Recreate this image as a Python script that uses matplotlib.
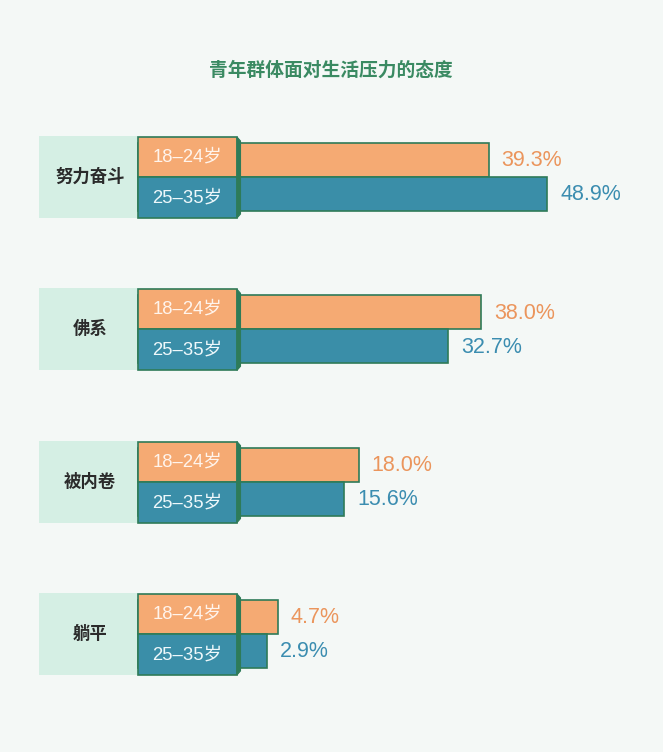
import matplotlib
matplotlib.use("Agg")
import matplotlib.pyplot as plt
from matplotlib.patches import Rectangle, Polygon

plt.rcParams['font.family'] = ['Noto Sans CJK SC', 'DejaVu Sans']
LATIN = ['Liberation Sans', 'Noto Sans CJK SC', 'DejaVu Sans']

# ---- data ----
title = "青年群体面对生活压力的态度"
categories = ["努力奋斗", "佛系", "被内卷", "躺平"]
age_groups = ["18–24岁", "25–35岁"]
young_vals = [39.3, 38.0, 18.0, 4.7]   # 18-24
older_vals = [48.9, 32.7, 15.6, 2.9]   # 25-35

# ---- style ----
BG = "#f4f8f6"
LIGHT = "#d5efe4"
ORANGE = "#f5aa73"
BLUE = "#3a8ea8"
ORANGE_TXT = "#eb955c"
BLUE_TXT = "#3b8db0"
EDGE = "#2e7b58"
TITLE_C = "#3a8a62"
CAT_C = "#2b2b2b"

W, H = 663, 752
fig = plt.figure(figsize=(W / 100, H / 100), dpi=100, facecolor=BG)
ax = fig.add_axes([0, 0, 1, 1])
ax.set_facecolor(BG)

PX0 = 249.0     # pixel x of value 0
SCALE = 6.1     # pixels per percentage point
ax.set_xlim(-PX0 / SCALE, (W - PX0) / SCALE)
ax.set_ylim(H, 0)
ax.axis("off")


def px(xp):
    return (xp - PX0) / SCALE


LBL_L, AGE_L, AGE_R = px(39), px(138), px(237)
CH = 3.5 / SCALE

ax.text(px(331), 70, title, ha="center", va="center", fontsize=13.5,
        fontweight="bold", color=TITLE_C)

for i, cat in enumerate(categories):
    split = 177 + 152.3 * i
    # category box
    ax.add_patch(Rectangle((LBL_L, split - 41), AGE_L - LBL_L, 82,
                           facecolor=LIGHT, edgecolor="none", zorder=1))
    ax.text(px(90), split, cat, ha="center", va="center",
            fontsize=12.5, fontweight="bold", color=CAT_C, zorder=5)
    # bars
    for v, yc, fc, tc in [(young_vals[i], split - 17, ORANGE, ORANGE_TXT),
                          (older_vals[i], split + 17, BLUE, BLUE_TXT)]:
        ax.barh(yc, v - AGE_L, left=AGE_L, height=34, color=fc,
                edgecolor=EDGE, linewidth=1.2, zorder=2)
        ax.text(v + 13 / SCALE, yc + 1, f"{v:.1f}%", ha="left", va="center",
                fontsize=15.5, color=tc, family=LATIN, zorder=5)
    # age boxes
    ax.add_patch(Rectangle((AGE_L, split - 40), AGE_R - AGE_L, 40,
                           facecolor=ORANGE, edgecolor=EDGE, linewidth=1.2, zorder=3))
    ax.add_patch(Rectangle((AGE_L, split), AGE_R - AGE_L, 41,
                           facecolor=BLUE, edgecolor=EDGE, linewidth=1.2, zorder=3))
    ax.add_patch(Polygon([(AGE_R, split - 40), (AGE_R + CH, split - 36),
                          (AGE_R + CH, split + 37), (AGE_R, split + 41)],
                         closed=True, facecolor=EDGE, edgecolor=EDGE,
                         linewidth=0.8, zorder=4))
    ax.text((AGE_L + AGE_R) / 2, split - 20, age_groups[0], ha="center",
            va="center", fontsize=13.3, color="#fff4ec", family=LATIN, zorder=5)
    ax.text((AGE_L + AGE_R) / 2, split + 21, age_groups[1], ha="center",
            va="center", fontsize=13.3, color="#eef8fb", family=LATIN, zorder=5)

fig.savefig("out.png", dpi=100, facecolor=BG)
